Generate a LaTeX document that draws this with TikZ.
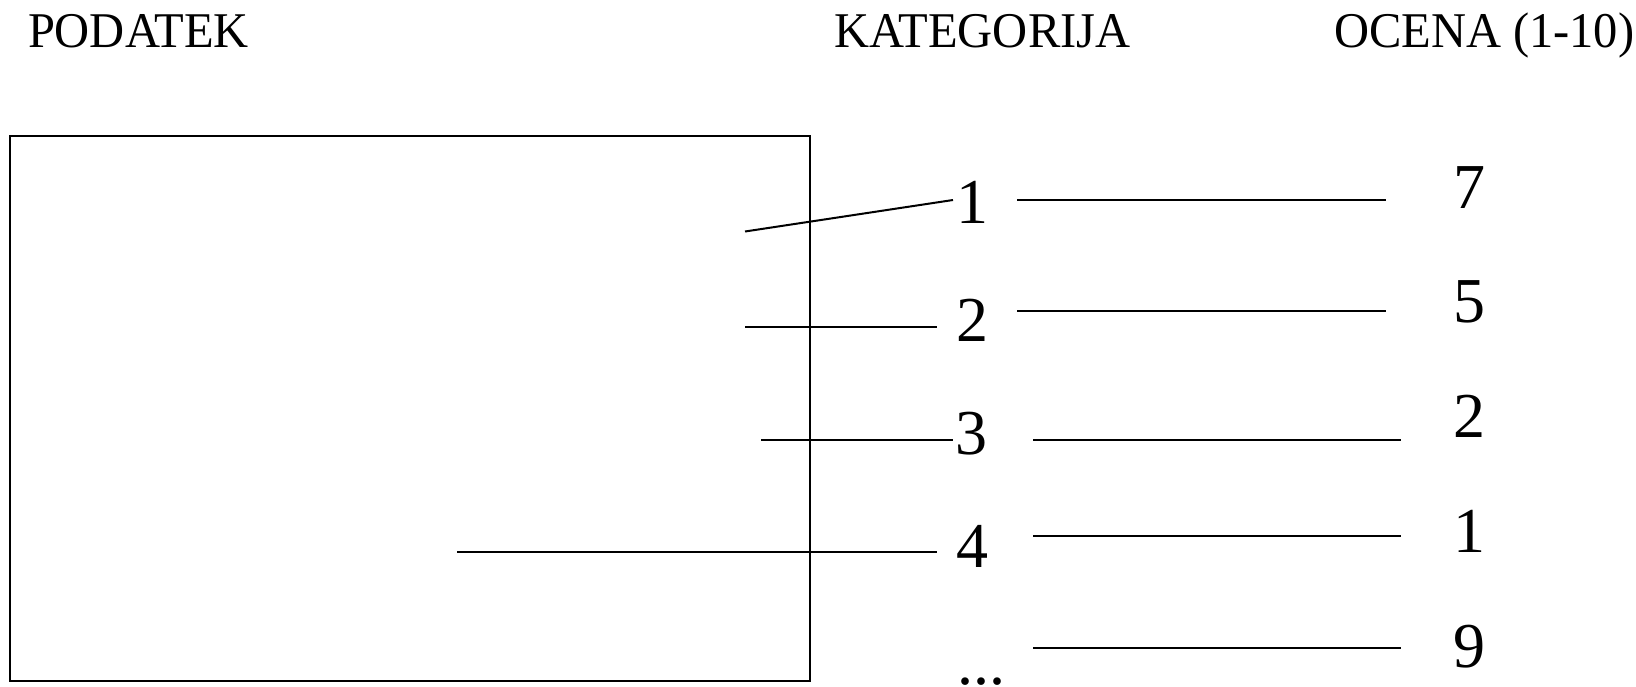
\documentclass[tikz,border=0pt]{standalone}
\usepackage{fontspec}
\setmainfont{Liberation Serif}
\newfontfamily\hdrfont[FakeStretch=0.97]{Liberation Serif}
\begin{document}
\begin{tikzpicture}[x=1pt,y=-1pt,
  line width=2pt,
  header/.style={anchor=base west,inner sep=0pt,font=\hdrfont\fontsize{50}{60}\selectfont},
  digit/.style={anchor=base,inner sep=0pt,font=\fontsize{64}{76}\selectfont},
  link/.style={draw,line width=2pt}]
\useasboundingbox (0,0) rectangle (1636,686);

% column headers
\node[header] (hData) at (27,47) {PODATEK};
\node[header] (hCat)  at (833,47) {KATEGORIJA};
\node[header] (hRate) at (1333,47) {OCENA (1-10)};

% data box
\draw (9.5,135.5) rectangle (809.5,681);

% category numbers
\node[digit] (c1) at (972,223) {1};
\node[digit] (c2) at (972,341) {2};
\node[digit] (c3) at (971,454) {3};
\node[digit] (c4) at (972,567) {4};
\node[digit] (c5) at (981,684) {...};

% ratings
\node[digit] (r1) at (1469,208) {7};
\node[digit] (r2) at (1469,322) {5};
\node[digit] (r3) at (1469,437) {2};
\node[digit] (r4) at (1469,552) {1};
\node[digit] (r5) at (1469,667) {9};

% connectors from the data box to the categories
\coordinate (s1) at (745,231.5);  \coordinate (e1) at (953,200);
\coordinate (s2) at (745,327);    \coordinate (e2) at (937,327);
\coordinate (s3) at (761,440);    \coordinate (e3) at (953,440);
\coordinate (s4) at (457,552);    \coordinate (e4) at (937,552);
\draw[link] (s1) -- (e1);
\draw[link] (s2) -- (e2);
\draw[link] (s3) -- (e3);
\draw[link] (s4) -- (e4);

% connectors from the categories to the ratings
\coordinate (a1) at (1017,200); \coordinate (b1) at (1386,200);
\coordinate (a2) at (1017,311); \coordinate (b2) at (1386,311);
\coordinate (a3) at (1033,440); \coordinate (b3) at (1401,440);
\coordinate (a4) at (1033,536); \coordinate (b4) at (1401,536);
\coordinate (a5) at (1033,648); \coordinate (b5) at (1401,648);
\draw[link] (a1) -- (b1);
\draw[link] (a2) -- (b2);
\draw[link] (a3) -- (b3);
\draw[link] (a4) -- (b4);
\draw[link] (a5) -- (b5);
\end{tikzpicture}
\end{document}
